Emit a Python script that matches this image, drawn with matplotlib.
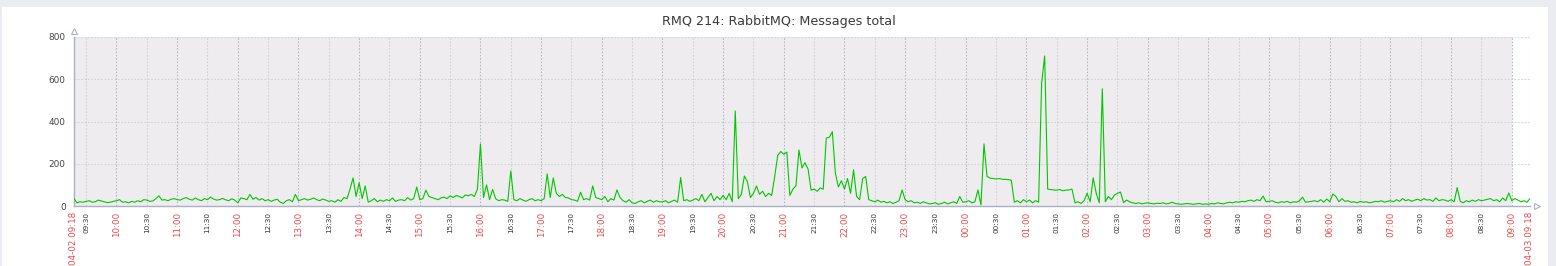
import matplotlib.pyplot as plt
from matplotlib.patches import Rectangle
import numpy as np

# minutes from 04-02 09:18, one value every 3 minutes
s0918 = [35, 15, 20, 18, 22, 25, 18, 20, 28, 24, 20, 16, 18, 22]
h10 = [25, 30, 18, 20, 15, 22, 18, 25, 20, 30, 28, 22, 24, 35, 48, 28, 30, 25, 32, 35]
h11 = [30, 28, 35, 40, 32, 28, 38, 30, 25, 35, 30, 42, 33, 28, 30, 36, 29, 25, 34, 28]
h12 = [15, 38, 35, 30, 55, 32, 40, 28, 35, 25, 30, 22, 28, 32, 18, 12, 25, 30, 20, 55]
h13 = [25, 30, 35, 28, 32, 38, 30, 25, 33, 28, 22, 25, 18, 30, 22, 40, 35, 80, 133, 45]
h14 = [110, 35, 95, 18, 25, 35, 20, 28, 22, 30, 25, 38, 22, 28, 30, 25, 40, 28, 35, 90]
h15 = [30, 35, 75, 45, 40, 35, 30, 38, 42, 35, 48, 40, 50, 45, 38, 52, 48, 55, 45, 80]
h16 = [294, 40, 100, 30, 78, 35, 25, 30, 28, 22, 166, 30, 25, 35, 28, 22, 30, 35, 25, 30]
h17 = [25, 35, 152, 40, 133, 60, 45, 55, 40, 38, 30, 28, 22, 65, 30, 35, 28, 95, 40, 35]
h18 = [30, 45, 20, 35, 28, 76, 40, 25, 18, 30, 15, 12, 20, 25, 15, 22, 28, 18, 25, 20]
h19 = [20, 25, 15, 22, 28, 18, 135, 25, 30, 22, 28, 35, 25, 55, 20, 40, 60, 25, 45, 30]
h20 = [50, 30, 60, 20, 450, 35, 55, 142, 115, 40, 60, 95, 55, 70, 45, 60, 50, 140, 240, 258]
h21 = [245, 255, 50, 80, 95, 265, 180, 205, 175, 75, 80, 70, 85, 80, 322, 325, 352, 156, 90, 120]
h22 = [80, 130, 60, 171, 45, 30, 130, 140, 30, 25, 20, 28, 18, 22, 15, 20, 12, 18, 25, 76]
h23 = [30, 20, 25, 15, 18, 12, 20, 15, 10, 12, 15, 8, 12, 18, 10, 15, 20, 12, 45, 18]
h00 = [20, 25, 15, 20, 76, 5, 294, 140, 132, 130, 128, 130, 127, 126, 125, 122, 18, 25, 15, 30]
h01 = [20, 28, 15, 25, 18, 583, 710, 80, 78, 76, 75, 78, 72, 75, 76, 80, 15, 20, 12, 25]
h02 = [60, 20, 133, 60, 15, 555, 20, 45, 30, 52, 60, 66, 16, 28, 20, 15, 12, 15, 10, 13]
h03 = [15, 12, 10, 13, 12, 15, 10, 12, 18, 12, 10, 8, 10, 12, 10, 8, 10, 12, 8, 10]
h04 = [8, 12, 10, 15, 12, 10, 15, 18, 15, 20, 18, 22, 20, 25, 28, 22, 30, 25, 47, 20]
h05 = [22, 25, 18, 15, 20, 18, 22, 15, 20, 18, 25, 42, 18, 20, 22, 25, 20, 30, 18, 33]
h06 = [20, 57, 45, 20, 35, 22, 25, 18, 20, 15, 22, 18, 20, 15, 18, 22, 20, 25, 18, 22]
h07 = [25, 20, 30, 22, 35, 25, 30, 22, 28, 32, 25, 35, 28, 30, 22, 38, 25, 30, 28, 22]
h08 = [30, 20, 87, 22, 15, 25, 20, 28, 22, 30, 25, 28, 32, 35, 25, 30, 20, 38, 25, 62]
s0900 = [25, 35, 28, 20, 25, 18, 35]

values = (s0918 + h10 + h11 + h12 + h13 + h14 + h15 + h16 + h17 + h18 + h19 + h20
          + h21 + h22 + h23 + h00 + h01 + h02 + h03 + h04 + h05 + h06 + h07 + h08 + s0900)
t = np.arange(len(values)) * 3

hour_labels = ['10:00', '11:00', '12:00', '13:00', '14:00', '15:00', '16:00', '17:00',
               '18:00', '19:00', '20:00', '21:00', '22:00', '23:00', '00:00', '01:00',
               '02:00', '03:00', '04:00', '05:00', '06:00', '07:00', '08:00', '09:00']
half_labels = ['09:30', '10:30', '11:30', '12:30', '13:30', '14:30', '15:30', '16:30',
               '17:30', '18:30', '19:30', '20:30', '21:30', '22:30', '23:30', '00:30',
               '01:30', '02:30', '03:30', '04:30', '05:30', '06:30', '07:30', '08:30']
start_label = '04-02 09:18'
end_label = '04-03 09:18'
title = 'RMQ 214: RabbitMQ: Messages total'

hour_pos = [42 + 60 * i for i in range(len(hour_labels))]
half_pos = [12 + 60 * i for i in range(len(half_labels))]
end_t = 1440

fig = plt.figure(figsize=(15.56, 2.66), dpi=100)
fig.patch.set_facecolor('#ebebf2')
fig.patches.append(Rectangle((2 / 1556, 0), 1546 / 1556, 259 / 266,
                             transform=fig.transFigure, facecolor='white',
                             edgecolor='none', zorder=-10))

ax = fig.add_axes([74 / 1556, 60 / 266, 1456 / 1556, 169 / 266])
ax.set_facecolor('none')
ax.set_xlim(0, end_t)
ax.set_ylim(0, 800)

# non-working time shading (until 09:00 on 04-03)
ax.axvspan(0, hour_pos[-1], color='#efecef', lw=0, zorder=0)

dot = (0, (1.5, 1.5))
for p in half_pos:
    ax.axvline(p, color='#cfd3db', lw=0.8, ls=dot, zorder=1)
for p in hour_pos:
    ax.axvline(p, color='#b4bbc8', lw=0.8, ls=dot, zorder=1)
ax.axvline(end_t, color='#cfd3db', lw=0.8, ls=dot, zorder=1)
for v in [200, 400, 600, 800]:
    ax.axhline(v, color='#cfd3db', lw=0.8, ls=dot, zorder=1)

ax.plot(t, values, color='#00c800', lw=0.8, zorder=3)

for s in ['top', 'right']:
    ax.spines[s].set_visible(False)
for s in ['left', 'bottom']:
    ax.spines[s].set_color('#a9b1c2')
    ax.spines[s].set_linewidth(1)

ax.plot([0], [1.036], marker='^', ms=5, mfc='white', mec='#a9b1c2', mew=0.8,
        transform=ax.transAxes, clip_on=False)
ax.plot([1.005], [0], marker='>', ms=5, mfc='white', mec='#a9b1c2', mew=0.8,
        transform=ax.transAxes, clip_on=False)

ax.set_yticks([0, 200, 400, 600, 800])
ax.tick_params(axis='y', length=0, pad=6, labelsize=6.4, labelcolor='#444444')

ticks = [(0, start_label, 'red')] + [(p, l, 'red') for p, l in zip(hour_pos, hour_labels)] \
    + [(p, l, 'black') for p, l in zip(half_pos, half_labels)] + [(end_t, end_label, 'red')]
ticks.sort(key=lambda x: x[0])
ax.set_xticks([x[0] for x in ticks])
ax.set_xticklabels([x[1] for x in ticks], rotation=90, va='top', ha='center')
ax.tick_params(axis='x', length=0, pad=4)
for lab, tk in zip(ax.get_xticklabels(), ticks):
    if tk[2] == 'red':
        lab.set_color('#f04848')
        lab.set_fontsize(6.3)
    else:
        lab.set_color('#333333')
        lab.set_fontsize(5.2)

fig.text(779 / 1556, 1 - 22 / 266, title, ha='center', va='center',
         fontsize=9.2, color='#3a3a3a')

fig.savefig('out.png', dpi=100, facecolor=fig.get_facecolor())
